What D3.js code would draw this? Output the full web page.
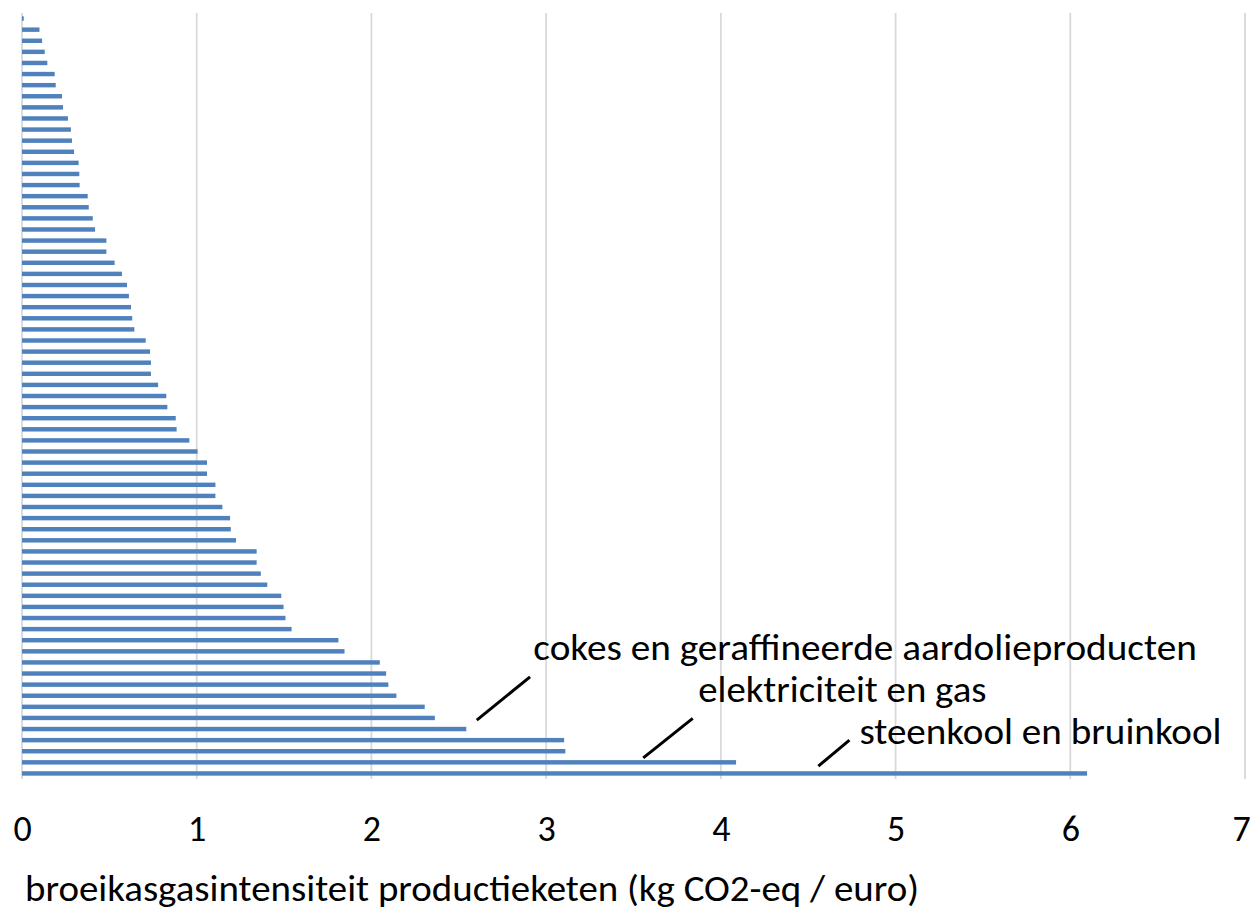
<!DOCTYPE html>
<html>
<head>
<meta charset="utf-8">
<script src="https://cdn.jsdelivr.net/npm/d3@7"></script>
<style>
  html, body { margin: 0; padding: 0; background: #fff; }
  svg { display: block; }
  text { font-family: Carlito, Calibri, Lato, sans-serif; fill: #000; }
</style>
</head>
<body>
<svg id="chart" width="1253" height="911"></svg>
<script>
// ---- data (sectors sorted by intensity, top to bottom) ----
const categories = [
  "s01","s02","s03","s04","s05","s06","s07","s08","s09","s10",
  "s11","s12","s13","s14","s15","s16","s17","s18","s19","s20",
  "s21","s22","s23","s24","s25","s26","s27","s28","s29","s30",
  "s31","s32","s33","s34","s35","s36","s37","s38","s39","s40",
  "s41","s42","s43","s44","s45","s46","s47","s48","s49","s50",
  "s51","s52","s53","s54","s55","s56","s57","s58","s59","s60",
  "s61","s62","s63","s64","cokes en geraffineerde aardolieproducten","s66","s67",
  "elektriciteit en gas","steenkool en bruinkool"
];
const values = [
  0.01, 0.10, 0.115, 0.13, 0.145, 0.187, 0.193, 0.229, 0.235, 0.263,
  0.280, 0.286, 0.298, 0.324, 0.328, 0.330, 0.376, 0.382, 0.405, 0.418,
  0.483, 0.483, 0.530, 0.572, 0.601, 0.612, 0.624, 0.631, 0.643, 0.708,
  0.733, 0.738, 0.738, 0.779, 0.826, 0.832, 0.880, 0.885, 0.958, 1.005,
  1.059, 1.059, 1.107, 1.107, 1.147, 1.191, 1.195, 1.225, 1.343, 1.343,
  1.367, 1.404, 1.484, 1.497, 1.508, 1.543, 1.811, 1.846, 2.048, 2.084,
  2.097, 2.143, 2.305, 2.363, 2.543, 3.103, 3.110, 4.087, 6.096
];
const xTicks = [0, 1, 2, 3, 4, 5, 6, 7];
const xTitle = "broeikasgasintensiteit productieketen (kg CO2-eq / euro)";
// annotations: label, text anchor (value, bar-index), leader line (value, bar-index) pairs
const annoLabels = ["cokes en geraffineerde aardolieproducten", "elektriciteit en gas", "steenkool en bruinkool"];
const annoTextPos = [[2.927, 57.79], [3.871, 61.54], [4.793, 65.36]];
const annoTextEnd = [6.724, 5.520, 6.866];
const annoLines = [
  [[2.603, 63.2], [2.908, 59.3]],
  [[3.556, 66.6], [3.839, 63.04]],
  [[4.558, 67.34], [4.736, 65.0]]
];

// ---- layout ----
const FONT = 36;
const svg = d3.select("#chart");
const plot = { left: 22, right: 1245, top: 13, bottom: 779 };

const x = d3.scaleLinear().domain([0, 7]).range([plot.left, plot.right]);
const y = d3.scaleBand().domain(categories).range([plot.top, plot.bottom]).paddingInner(0.6).paddingOuter(0.3);
const yIdx = d3.scaleLinear()
  .domain([0, categories.length - 1])
  .range([y(categories[0]) + y.bandwidth() / 2, y(categories[categories.length - 1]) + y.bandwidth() / 2]);

// gridlines
svg.append("g").selectAll("line").data(xTicks).join("line")
  .attr("x1", d => x(d)).attr("x2", d => x(d))
  .attr("y1", plot.top).attr("y2", plot.bottom)
  .attr("stroke", "#d9d9d9").attr("stroke-width", 1.8);

// bars
svg.append("g").selectAll("rect").data(values).join("rect")
  .attr("x", x(0))
  .attr("y", (d, i) => y(categories[i]))
  .attr("width", d => x(d) - x(0))
  .attr("height", y.bandwidth())
  .attr("fill", "#4f81bd");

// x axis tick labels
const xAxis = d3.axisBottom(x).tickValues(xTicks).tickSize(0).tickPadding(0).tickFormat(d3.format("d"));
const gx = svg.append("g").attr("transform", `translate(0,${plot.bottom})`).call(xAxis);
gx.select(".domain").remove();
gx.selectAll("text")
  .attr("dy", null)
  .attr("y", 62)
  .attr("dx", d => d === 7 ? -4 : 0)
  .style("font-family", "Carlito, Calibri, Lato, sans-serif")
  .style("font-size", FONT + "px")
  .attr("fill", "#000");

// axis title
svg.append("text")
  .attr("x", 25).attr("y", 901)
  .attr("textLength", 894).attr("lengthAdjust", "spacingAndGlyphs")
  .style("font-size", FONT + "px")
  .text(xTitle);

// annotations
svg.append("g").selectAll("line").data(annoLines).join("line")
  .attr("x1", d => x(d[0][0])).attr("y1", d => yIdx(d[0][1]))
  .attr("x2", d => x(d[1][0])).attr("y2", d => yIdx(d[1][1]))
  .attr("stroke", "#000").attr("stroke-width", 3);

svg.append("g").selectAll("text").data(annoLabels).join("text")
  .attr("x", (d, i) => x(annoTextPos[i][0]))
  .attr("y", (d, i) => yIdx(annoTextPos[i][1]))
  .attr("textLength", (d, i) => x(annoTextEnd[i]) - x(annoTextPos[i][0]))
  .attr("lengthAdjust", "spacingAndGlyphs")
  .style("font-size", FONT + "px")
  .text(d => d);
</script>
</body>
</html>
